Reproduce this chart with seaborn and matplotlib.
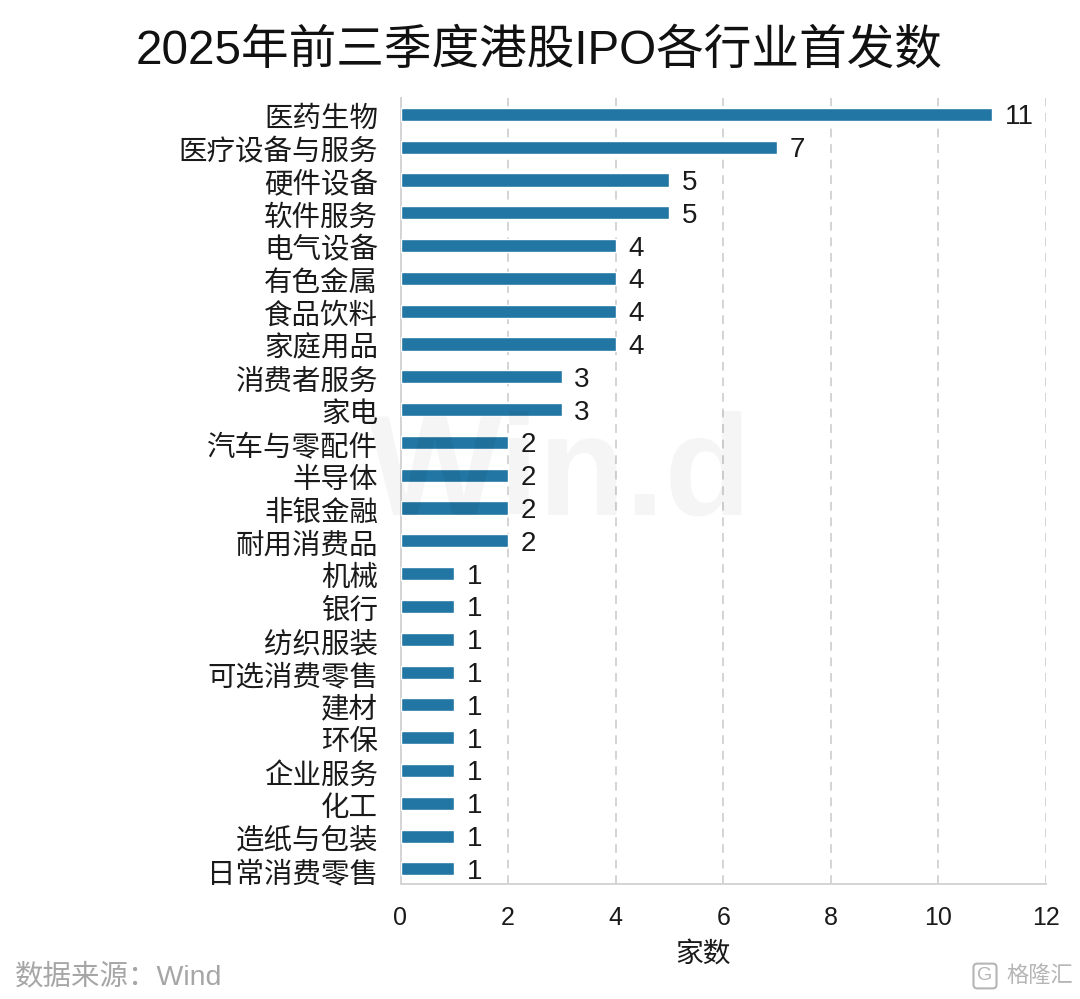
import matplotlib
matplotlib.use("Agg")
import matplotlib.pyplot as plt
import matplotlib.transforms as mtrans
import seaborn as sns

# 2025 HK IPO counts by industry
industries = ["医药生物", "医疗设备与服务", "硬件设备", "软件服务", "电气设备", "有色金属",
              "食品饮料", "家庭用品", "消费者服务", "家电", "汽车与零配件", "半导体",
              "非银金融", "耐用消费品", "机械", "银行", "纺织服装", "可选消费零售",
              "建材", "环保", "企业服务", "化工", "造纸与包装", "日常消费零售"]
counts = [11, 7, 5, 5, 4, 4, 4, 4, 3, 3, 2, 2, 2, 2, 1, 1, 1, 1, 1, 1, 1, 1, 1, 1]
x_ticks = [0, 2, 4, 6, 8, 10, 12]

sns.set_theme(style="white")
plt.rcParams["font.family"] = ["Liberation Sans", "Noto Sans CJK SC", "DejaVu Sans"]

fig = plt.figure(figsize=(10.8, 9.99), dpi=100)
ax = fig.add_axes([400.5 / 1080, 1 - 884 / 999, (1046 - 400.5) / 1080, (884 - 98) / 999])

sns.barplot(x=counts, y=industries, orient="h", color="#2176a3", saturation=1,
            width=0.4, ax=ax, zorder=3)

ax.set_xlim(0, 12)
ax.set_ylim(23.46, -0.5)
ax.set_xticks(x_ticks)
ax.grid(axis="x", color="#d4d4d4", linestyle=(0, (4.5, 3.5)), linewidth=1.4, zorder=0)
ax.grid(axis="y", visible=False)

sns.despine(ax=ax, top=True, right=True)
ax.spines["left"].set_color("#d4d4d4")
ax.spines["bottom"].set_color("#d4d4d4")
ax.spines["left"].set_linewidth(1.4)
ax.spines["bottom"].set_linewidth(1.4)

ax.tick_params(axis="y", labelsize=20.5, length=0, pad=16, labelcolor="#1a1a1a")
ax.tick_params(axis="x", labelsize=18, length=0, pad=16, labelcolor="#1a1a1a")
ax.set_ylabel("")
ax.set_xlabel("家数", fontsize=20, color="#1a1a1a", labelpad=8, x=0.469)

# nudge category labels down a little
down = mtrans.ScaledTranslation(0, -2.5 / 100, fig.dpi_scale_trans)
for label in ax.get_yticklabels():
    label.set_transform(label.get_transform() + down)

for t in ax.bar_label(ax.containers[0], labels=[str(c) for c in counts], padding=9, fontsize=20, color="#1a1a1a"):
    t.set_verticalalignment("center_baseline")

fig.text(0.499, 1 - 51 / 999, "2025年前三季度港股IPO各行业首发数", ha="center", va="center",
         fontsize=34.3, color="#111111")
fig.text(15 / 1080, 1 - 977 / 999, "数据来源：Wind", ha="left", va="center", fontsize=20.5, color="#a6a6a6")
fig.text(1073 / 1080, 1 - 976 / 999, "格隆汇", ha="right", va="center", fontsize=16, color="#b5b5b5")
fig.text(985 / 1080, 1 - 976 / 999, "G", ha="center", va="center", fontsize=14, color="#b5b5b5",
         bbox=dict(boxstyle="round,pad=0.2", fc="white", ec="#b5b5b5", lw=1.5))
# faint watermark over the bars
ax.text(560 / 1080, 1 - 478 / 999, "Win.d", transform=fig.transFigure, ha="center", va="center",
        fontsize=102, fontweight="bold", color="black", alpha=0.04, zorder=5, clip_on=False)

fig.savefig("out.png", dpi=100)
